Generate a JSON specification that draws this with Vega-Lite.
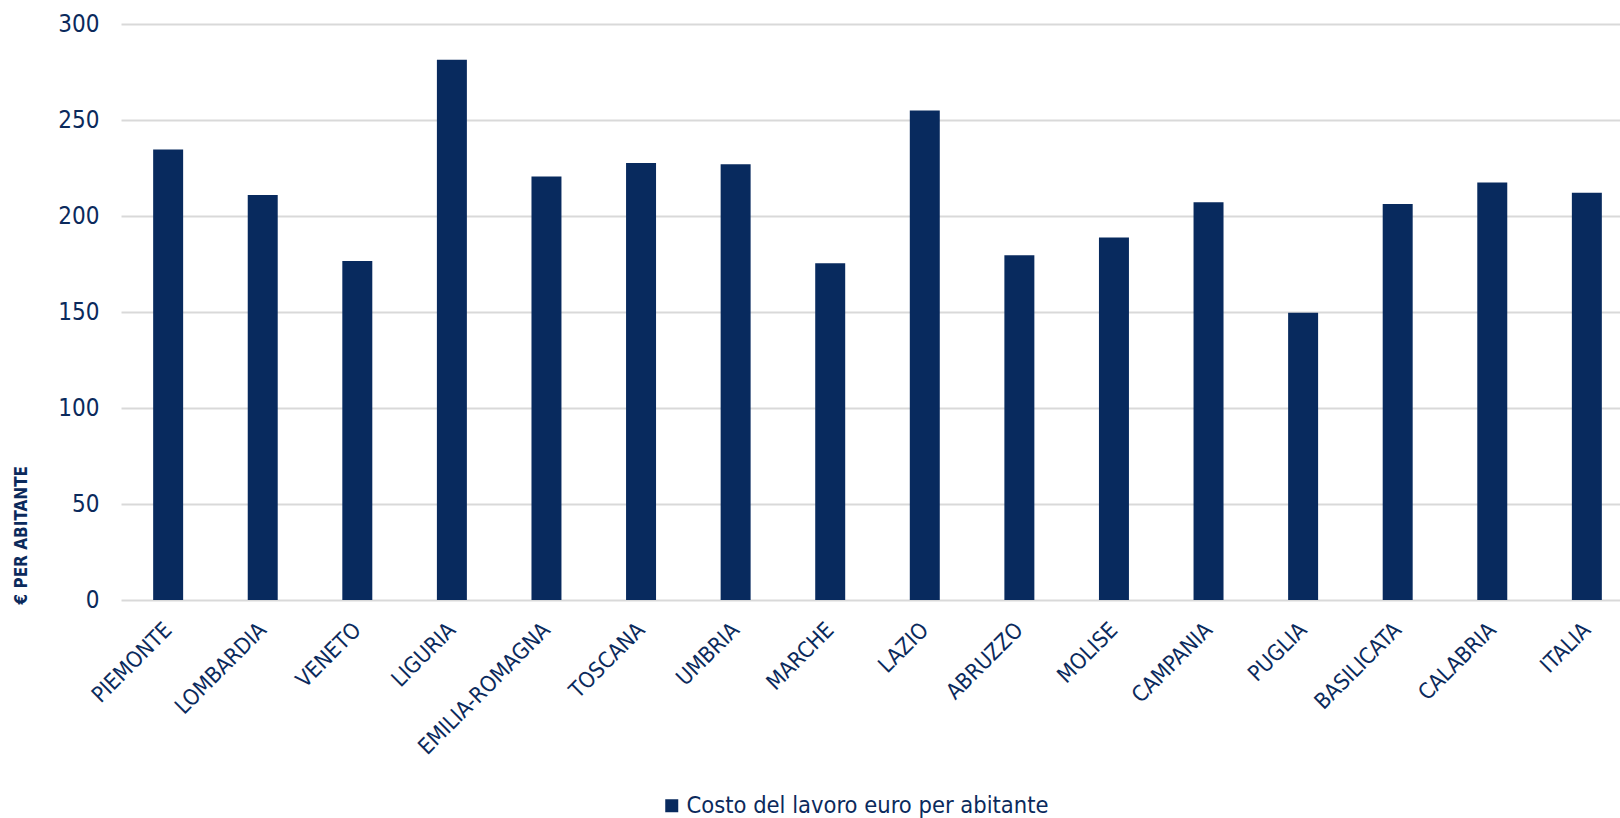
{
  "$schema": "https://vega.github.io/schema/vega-lite/v6.json",
  "autosize": {"type": "none"},
  "width": 1513,
  "height": 576,
  "padding": {"left": 121, "top": 24, "right": -14, "bottom": 218},
  "background": "white",
  "config": {
    "view": {"stroke": null},
    "font": "DejaVu Sans Condensed"
  },
  "data": {
    "values": [
      {"regione": "PIEMONTE", "valore": 234.6, "serie": "Costo del lavoro euro per abitante"},
      {"regione": "LOMBARDIA", "valore": 210.9, "serie": "Costo del lavoro euro per abitante"},
      {"regione": "VENETO", "valore": 176.6, "serie": "Costo del lavoro euro per abitante"},
      {"regione": "LIGURIA", "valore": 281.4, "serie": "Costo del lavoro euro per abitante"},
      {"regione": "EMILIA-ROMAGNA", "valore": 220.6, "serie": "Costo del lavoro euro per abitante"},
      {"regione": "TOSCANA", "valore": 227.6, "serie": "Costo del lavoro euro per abitante"},
      {"regione": "UMBRIA", "valore": 227.0, "serie": "Costo del lavoro euro per abitante"},
      {"regione": "MARCHE", "valore": 175.4, "serie": "Costo del lavoro euro per abitante"},
      {"regione": "LAZIO", "valore": 254.9, "serie": "Costo del lavoro euro per abitante"},
      {"regione": "ABRUZZO", "valore": 179.6, "serie": "Costo del lavoro euro per abitante"},
      {"regione": "MOLISE", "valore": 188.8, "serie": "Costo del lavoro euro per abitante"},
      {"regione": "CAMPANIA", "valore": 207.2, "serie": "Costo del lavoro euro per abitante"},
      {"regione": "PUGLIA", "valore": 149.6, "serie": "Costo del lavoro euro per abitante"},
      {"regione": "BASILICATA", "valore": 206.2, "serie": "Costo del lavoro euro per abitante"},
      {"regione": "CALABRIA", "valore": 217.5, "serie": "Costo del lavoro euro per abitante"},
      {"regione": "ITALIA", "valore": 212.1, "serie": "Costo del lavoro euro per abitante"}
    ]
  },
  "mark": {"type": "bar"},
  "encoding": {
    "x": {
      "field": "regione",
      "type": "nominal",
      "sort": null,
      "scale": {"paddingInner": 0.683, "paddingOuter": 0.34},
      "axis": {
        "title": null,
        "domain": false,
        "ticks": false,
        "labelAngle": -45,
        "labelAlign": "right",
        "labelBaseline": "middle",
        "labelFontSize": 22,
        "labelColor": "#0b2a5c",
        "labelPadding": 26,
        "labelLimit": 0
      }
    },
    "y": {
      "field": "valore",
      "type": "quantitative",
      "scale": {"domain": [0, 300], "nice": false},
      "axis": {
        "values": [0, 50, 100, 150, 200, 250, 300],
        "title": "€ PER ABITANTE",
        "titleFontSize": 17,
        "titleFontWeight": "bold",
        "titleColor": "#0b2a5c",
        "titleAngle": -90,
        "titleX": -100,
        "titleY": 580,
        "titleAlign": "left",
        "titleBaseline": "middle",
        "domain": false,
        "ticks": false,
        "labelFontSize": 24,
        "labelColor": "#0b2a5c",
        "labelPadding": 22,
        "gridColor": "#d9d9d9",
        "gridWidth": 2
      }
    },
    "color": {
      "field": "serie",
      "type": "nominal",
      "scale": {"range": ["#082a5e"]},
      "legend": {
        "title": null,
        "orient": "none",
        "legendX": 539,
        "legendY": 770,
        "symbolType": "square",
        "symbolSize": 169,
        "symbolOpacity": 1,
        "labelFontSize": 23.5,
        "labelColor": "#0b2a5c",
        "labelOffset": 3,
        "labelLimit": 0
      }
    }
  }
}
